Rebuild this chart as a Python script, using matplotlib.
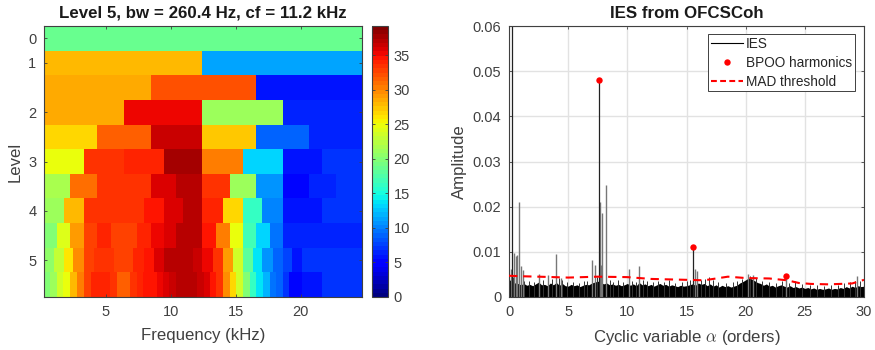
import matplotlib
matplotlib.use('Agg')
import matplotlib.pyplot as plt
import numpy as np
from matplotlib.lines import Line2D

plt.rcParams['font.family'] = ['Liberation Sans', 'DejaVu Sans']
plt.rcParams['mathtext.fontset'] = 'cm'

F_MIN, F_MAX = 0.23, 24.7
level_labels = ['0', '1', '2', '3', '4', '5']
level_rows = [0, 1, 3, 5, 7, 9]
freq_ticks = [5, 10, 15, 20]
cbar_ticks = [0, 5, 10, 15, 20, 25, 30, 35]

row_edges = [
    [],
    [12.44],
    [8.44, 16.56],
    [6.36, 12.44, 18.64],
    [4.33, 8.44, 12.44, 16.56, 20.64],
    [3.31, 6.36, 9.44, 12.44, 15.54, 18.64, 21.67],
    [2.23, 4.33, 8.44, 10.44, 12.44, 14.54, 16.56, 18.64, 20.64, 22.74],
    [1.74, 3.31, 7.92, 9.44, 10.95, 12.44, 14.03, 15.54, 17.05, 18.64, 21.67],
    [1.23, 2.23, 3.31, 4.33, 5.36, 7.36, 8.44, 9.44, 10.44, 12.44, 13.51, 14.54, 15.54, 16.56, 17.67, 18.64],
    [0.97, 1.74, 2.49, 3.31, 4.08, 5.62, 7.1, 7.92, 8.67, 9.44, 10.2, 11.69, 12.44, 13.26, 14.03, 14.79, 15.54, 16.31, 17.05, 17.9, 18.64, 19.38, 20.13],
    [0.69, 1.21, 1.72, 2.23, 2.8, 3.28, 3.82, 5.28, 5.82, 6.82, 7.36, 7.88, 8.44, 8.95, 9.42, 9.9, 10.44, 12.03, 12.54, 13, 13.52, 14.03, 14.54, 15.05, 15.57, 16.08, 16.59, 17.1, 17.62, 18.13, 18.65, 19.15, 20.1, 21.65],
]
row_values = [
    [18.5],
    [27.8, 11.6],
    [28.6, 32.2, 6.0],
    [28.6, 35.4, 20.9, 6.2],
    [26.6, 31.8, 36.7, 27.2, 8.6, 6.6],
    [24.6, 33.4, 34.0, 37.4, 30.3, 13.0, 5.6, 7.0],
    [21.8, 31.1, 33.4, 36.0, 37.1, 33.2, 21.2, 10.6, 5.0, 6.2, 7.0],
    [20.9, 27.8, 33.4, 34.9, 36.0, 37.1, 34.0, 26.6, 16.2, 9.8, 6.0, 7.0],
    [20.2, 24.0, 29.0, 33.0, 34.0, 32.6, 34.0, 35.4, 36.0, 37.1, 34.6, 30.3, 25.1, 17.0, 13.0, 9.6, 6.6],
    [20.3, 22.7, 25.9, 29.8, 32.6, 33.6, 32.6, 34.0, 34.6, 36.0, 36.9, 37.1, 36.6, 35.4, 33.4, 29.4, 23.6, 18.0, 14.0, 10.6, 8.6, 7.5, 5.6, 7.0],
    [20.2, 21.2, 23.4, 25.1, 27.8, 30.3, 32.6, 34.0, 33.4, 31.6, 33.2, 34.0, 34.4, 34.9, 35.4, 36.0, 36.6, 37.1, 36.6, 36.0, 34.9, 33.2, 29.8, 26.8, 23.6, 20.2, 16.5, 14.0, 12.0, 9.6, 8.6, 7.0, 5.0, 6.0, 7.0],
]

strong_alpha = [0.28, 7.63, 15.58]
strong_amp = [0.06, 0.048, 0.011]
weak_alpha = [0.15, 0.4, 0.55, 0.7, 0.85, 1.0, 1.15, 2.55, 3.3, 3.94, 4.4, 6.98, 7.27, 7.67, 7.8, 7.9, 8.2, 10.14, 10.96, 15.72, 15.89, 20.2, 20.6, 23.38, 29.4]
weak_amp = [0.0062, 0.0098, 0.009, 0.0093, 0.021, 0.0068, 0.006, 0.0052, 0.0048, 0.0096, 0.0043, 0.0082, 0.007, 0.021, 0.007, 0.0185, 0.0248, 0.0061, 0.0069, 0.0063, 0.0057, 0.005, 0.0048, 0.0047, 0.0046]

small_alpha = [0.3, 1.3, 1.7, 2.1, 2.9, 3.6, 4.2, 4.5, 4.9, 5.4, 5.9, 6.3, 6.6, 7.05, 7.4, 8.5, 8.8, 9.2, 9.6, 10.4, 10.7, 11.3, 11.7, 12.2, 12.6, 13.1, 13.5, 14.0, 14.6, 15.0, 15.3, 16.2, 16.6, 16.9, 17.2, 17.7, 18.3, 18.9, 19.3, 19.7, 20.4, 20.9, 21.4, 22.0, 22.6, 23.1, 23.7, 24.2, 24.8, 25.4, 26.0, 26.6, 27.2, 27.8, 28.3, 28.8, 29.2, 29.7]
small_amp = [.0045, .0035, .0036, .0034, .0037, .0040, .0042, .0038, .0033, .0034, .0031, .0036, .0035, .0042, .0045, .0037, .0034, .0038, .0033, .0036, .0034, .0038, .0036, .0034, .0035, .0033, .0037, .0032, .0034, .0036, .0038, .0037, .0040, .0044, .0037, .0033, .0031, .0034, .0036, .0040, .0046, .0042, .0036, .0033, .0030, .0036, .0032, .0035, .0028, .0026, .0026, .0024, .0026, .0027, .0032, .0033, .0036, .0035]

floor_alpha = [0, .25, .5, .75, 1, 1.25, 1.5, 1.75, 2, 2.25, 2.5, 2.75, 3, 3.25, 3.5, 3.75, 4, 4.25, 4.5, 4.75,
               5, 5.25, 5.5, 5.75, 6, 6.25, 6.5, 6.75, 7, 7.25, 7.5, 7.75, 8, 8.25, 8.5, 8.75, 9, 9.25, 9.5, 9.75,
               10, 10.25, 10.5, 10.75, 11, 11.25, 11.5, 11.75, 12, 12.25, 12.5, 12.75, 13, 13.25, 13.5, 13.75, 14, 14.25, 14.5, 14.75,
               15, 15.25, 15.5, 15.75, 16, 16.25, 16.5, 16.75, 17, 17.25, 17.5, 17.75, 18, 18.25, 18.5, 18.75, 19, 19.25, 19.5, 19.75,
               20, 20.25, 20.5, 20.75, 21, 21.25, 21.5, 21.75, 22, 22.25, 22.5, 22.75, 23, 23.25, 23.5, 23.75, 24, 24.25, 24.5, 24.75,
               25, 25.25, 25.5, 25.75, 26, 26.25, 26.5, 26.75, 27, 27.25, 27.5, 27.75, 28, 28.25, 28.5, 28.75, 29, 29.25, 29.5, 29.75, 30]
floor_amp = [.0038, .0036, .0031, .0030, .0027, .0030, .0026, .0028, .0025, .0029, .0033, .0027, .0028, .0025, .0031, .0027, .0032, .0026, .0030, .0025,
             .0024, .0028, .0025, .0027, .0023, .0026, .0028, .0027, .0031, .0033, .0035, .0032, .0029, .0031, .0027, .0029, .0026, .0028, .0025, .0027,
             .0030, .0026, .0029, .0025, .0032, .0027, .0029, .0025, .0028, .0024, .0027, .0030, .0026, .0028, .0024, .0027, .0025, .0023, .0026, .0024,
             .0025, .0027, .0029, .0026, .0031, .0028, .0030, .0025, .0029, .0024, .0027, .0022, .0026, .0023, .0025, .0022, .0024, .0026, .0031, .0034,
             .0038, .0042, .0040, .0036, .0032, .0030, .0026, .0029, .0024, .0026, .0022, .0025, .0027, .0024, .0022, .0025, .0021, .0023, .0020, .0022,
             .0019, .0021, .0018, .0020, .0017, .0019, .0017, .0018, .0020, .0017, .0019, .0018, .0021, .0019, .0023, .0020, .0024, .0021, .0025, .0023, .0024]

harm_alpha = [7.63, 15.58, 23.38]
harm_amp = [0.048, 0.011, 0.0047]

mad_alpha = [0, 1, 2.5, 5, 7.5, 10, 12, 15, 16.5, 18.5, 20, 22, 23.5, 24.5, 25.5, 27, 29, 30]
mad_amp = [0.0047, 0.0046, 0.0045, 0.0043, 0.0045, 0.0044, 0.004, 0.0038, 0.0037, 0.0045, 0.0042, 0.0041, 0.0037, 0.0031, 0.0029, 0.0028, 0.003, 0.0038]

INK = '#404040'
W, H = 875, 350
fig = plt.figure(figsize=(W / 100, H / 100), dpi=100)
top, bottom = 26, 297


def box(x0, x1):
    return [x0 / W, 1 - bottom / H, (x1 - x0) / W, (bottom - top) / H]


def style(ax):
    for s in ax.spines.values():
        s.set_color(INK)
        s.set_linewidth(0.8)


ax1 = fig.add_axes(box(44, 361.5))
cmap = plt.get_cmap('jet', 64)
for i, (ed, vals) in enumerate(zip(row_edges, row_values)):
    xe = np.array([F_MIN] + ed + [F_MAX])
    mesh = ax1.pcolormesh(xe, [i - 0.5, i + 0.5], np.array([vals]), cmap=cmap, vmin=0, vmax=39.2, linewidth=0, antialiased=False)
ax1.set_xlim(F_MIN, F_MAX)
ax1.set_ylim(10.5, -0.5)
ax1.set_xticks(freq_ticks)
ax1.set_yticks(level_rows)
ax1.set_yticklabels(level_labels)
ax1.tick_params(direction='in', length=2.5, width=0.6, top=True, right=True, colors=INK, labelsize=10.5, pad=5.5)
ax1.set_xlabel('Frequency (kHz)', fontsize=12.1, color=INK, labelpad=6.5)
ax1.set_ylabel('Level', fontsize=12.1, color=INK, labelpad=4)
ax1.set_title('Level 5, bw = 260.4 Hz, cf = 11.2 kHz', fontsize=12.2, fontweight='bold', color='#1a1a1a', pad=5.8)
style(ax1)

cax = fig.add_axes(box(371.5, 388))
cb = fig.colorbar(mesh, cax=cax)
cb.set_ticks(cbar_ticks)
cax.tick_params(direction='in', length=2.5, width=0.6, left=True, right=True, colors=INK, labelsize=10.5, pad=4)
cb.outline.set_edgecolor(INK)
cb.outline.set_linewidth(0.8)

ax2 = fig.add_axes(box(509, 864))
ax2.grid(True, color='#e2e2e2', linewidth=1.0)
ax2.set_axisbelow(True)
ax2.fill_between(floor_alpha, 0, floor_amp, color='black', linewidth=0, zorder=2)
ax2.vlines(small_alpha, 0, small_amp, color='#333333', linewidth=0.7, zorder=2)
ax2.vlines(weak_alpha, 0, weak_amp, color='#777777', linewidth=1.0, zorder=2)
ax2.vlines(strong_alpha, 0, strong_amp, color='#222222', linewidth=0.9, zorder=2)
ax2.plot(mad_alpha, mad_amp, color='red', linestyle=(0, (4, 2.8)), linewidth=1.5, zorder=3)
ax2.plot(harm_alpha, harm_amp, 'o', color='red', markersize=4.6, markeredgewidth=0, zorder=4)
ax2.set_xlim(0, 30)
ax2.set_ylim(0, 0.06)
ax2.set_xticks(range(0, 31, 5))
ax2.set_yticks([0, 0.01, 0.02, 0.03, 0.04, 0.05, 0.06])
ax2.set_yticklabels(['0', '0.01', '0.02', '0.03', '0.04', '0.05', '0.06'])
ax2.tick_params(direction='in', length=2.5, width=0.6, top=True, right=True, colors=INK, labelsize=10.5, pad=5.5)
ax2.set_xlabel(r'Cyclic variable $\alpha$ (orders)', fontsize=12.1, color=INK, labelpad=6.5)
ax2.set_ylabel('Amplitude', fontsize=12.1, color=INK, labelpad=4)
ax2.set_title('IES from OFCSCoh', fontsize=12.2, fontweight='bold', color='#1a1a1a', pad=5.8)
style(ax2)

handles = [Line2D([], [], color='black', linewidth=0.8),
           Line2D([], [], color='red', marker='o', markersize=4.6, markeredgewidth=0, linestyle='none'),
           Line2D([], [], color='red', linestyle=(0, (2.8, 1.6)), linewidth=1.5)]
leg = ax2.legend(handles, ['IES', 'BPOO harmonics', 'MAD threshold'], loc='upper right',
                 bbox_to_anchor=(855 / 355 - 509 / 355, 1 - 8 / 271), borderaxespad=0,
                 fontsize=9.85, fancybox=False, framealpha=1, edgecolor=INK, labelspacing=0.36,
                 borderpad=0.2, handlelength=2.4, handletextpad=0.2, labelcolor='#262626')
leg.get_frame().set_linewidth(0.7)

fig.savefig('out.png', dpi=100)
